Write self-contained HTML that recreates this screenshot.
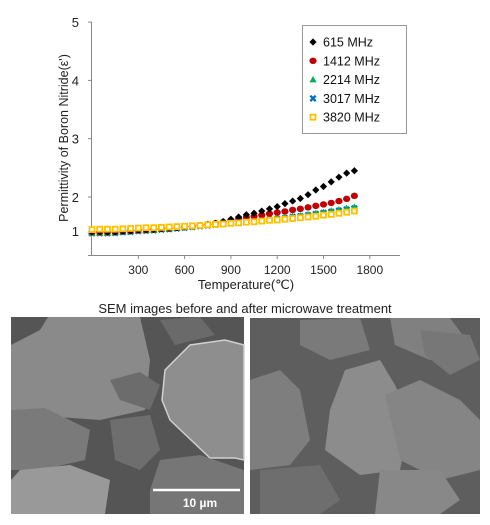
<!DOCTYPE html>
<html><head><meta charset="utf-8"><style>
html,body{margin:0;padding:0;background:#fff;width:490px;height:525px;overflow:hidden;font-family:"Liberation Sans",sans-serif}
svg{position:absolute;left:0;top:0}
</style></head><body>
<svg id="chart" width="490" height="300" viewBox="0 0 490 300"></svg>
<svg width="490" height="525" viewBox="0 0 490 525" style="pointer-events:none">
<text x="245" y="313" text-anchor="middle" font-size="13" fill="#222">SEM images before and after microwave treatment</text>
<g>
<rect x="11" y="317" width="233" height="197" fill="#555"/>
<path d="M11 345 L40 330 L48 317 L140 317 L150 360 L145 410 L100 420 L30 415 L11 410Z" fill="#8a8a8a"/>
<path d="M165 370 L190 345 L225 340 L244 345 L244 460 L235 458 L210 458 L170 420 L162 400Z" fill="#8e8e8e" stroke="#d0d0d0" stroke-width="1.5"/>
<path d="M11 410 L45 408 L90 430 L85 460 L40 470 L11 470Z" fill="#7a7a7a"/>
<path d="M20 470 L70 465 L110 480 L105 514 L11 514 L11 480Z" fill="#999"/>
<path d="M110 420 L150 415 L160 450 L140 470 L115 460Z" fill="#6e6e6e"/>
<path d="M160 460 L200 455 L244 470 L244 514 L150 514 L150 490Z" fill="#767676"/>
<path d="M160 320 L200 317 L215 335 L175 345Z" fill="#6a6a6a"/>
<path d="M110 380 L140 372 L160 385 L150 410 L120 400Z" fill="#6c6c6c"/>
<line x1="153" y1="490" x2="240" y2="490" stroke="#fff" stroke-width="2.5"/>
<text x="200" y="507" text-anchor="middle" font-size="12" font-weight="bold" fill="#fff">10 µm</text>
</g>
<g>
<rect x="250" y="318" width="230" height="196" fill="#5e5e5e"/>
<path d="M250 380 L280 370 L300 390 L310 440 L290 465 L250 470Z" fill="#7e7e7e"/>
<path d="M330 410 L345 370 L380 360 L395 385 L410 420 L400 470 L360 475 L325 450Z" fill="#8c8c8c"/>
<path d="M385 395 L420 380 L460 400 L480 420 L480 470 L440 480 L400 460Z" fill="#858585"/>
<path d="M300 320 L360 318 L370 350 L330 360 L300 345Z" fill="#7a7a7a"/>
<path d="M390 318 L450 318 L470 345 L430 360 L395 345Z" fill="#808080"/>
<path d="M260 470 L320 465 L340 500 L320 514 L260 514Z" fill="#6e6e6e"/>
<path d="M380 470 L440 470 L460 500 L440 514 L375 514Z" fill="#888"/>
<path d="M420 330 L470 335 L480 360 L450 375 L425 355Z" fill="#777"/>
</g>
</svg>
<script>
const temps=[0,50,100,150,200,250,300,350,400,450,500,550,600,650,700,750,800,850,900,950,1000,1050,1100,1150,1200,1250,1300,1350,1400,1450,1500,1550,1600,1650,1700];
const s615=[1.06,1.06,1.05,1.05,1.07,1.08,1.10,1.11,1.12,1.14,1.15,1.17,1.19,1.21,1.23,1.26,1.29,1.34,1.40,1.46,1.52,1.56,1.62,1.68,1.74,1.82,1.89,1.96,2.04,2.12,2.18,2.26,2.34,2.41,2.45];
const s1412=[1.05,1.05,1.05,1.05,1.07,1.08,1.10,1.11,1.12,1.14,1.15,1.17,1.19,1.21,1.23,1.26,1.29,1.32,1.37,1.41,1.45,1.48,1.51,1.55,1.58,1.61,1.65,1.68,1.72,1.76,1.80,1.84,1.89,1.95,2.02];
const s2214=[1.03,1.03,1.03,1.04,1.06,1.07,1.09,1.10,1.11,1.13,1.14,1.16,1.18,1.20,1.22,1.24,1.26,1.28,1.30,1.32,1.35,1.37,1.39,1.41,1.43,1.45,1.48,1.50,1.53,1.56,1.59,1.63,1.66,1.70,1.73];
const s3017=[1.02,1.02,1.02,1.03,1.05,1.06,1.08,1.09,1.10,1.12,1.13,1.15,1.17,1.19,1.21,1.23,1.25,1.27,1.29,1.31,1.33,1.35,1.37,1.39,1.41,1.43,1.46,1.48,1.51,1.54,1.57,1.60,1.63,1.66,1.69];
const s3820=[1.12,1.13,1.13,1.13,1.14,1.15,1.16,1.17,1.17,1.18,1.19,1.20,1.21,1.22,1.23,1.25,1.26,1.27,1.29,1.30,1.32,1.33,1.35,1.37,1.38,1.40,1.42,1.44,1.46,1.48,1.51,1.53,1.56,1.59,1.62];
const xTicks=[300,600,900,1200,1500,1800];
const yTicks=[1,2,3,4,5];
const seriesNames=["615 MHz","1412 MHz","2214 MHz","3017 MHz","3820 MHz"];

const NS="http://www.w3.org/2000/svg";
const svg=document.getElementById('chart');
function X(t){return 92+t*46.3/300;}
function Y(v){ if(v<=2) return 234-(v-1)*37; return 197-(v-2)*58.3;}
function el(tag,attrs,parent){const e=document.createElementNS(NS,tag);for(const k in attrs)e.setAttribute(k,attrs[k]);(parent||svg).appendChild(e);return e;}

const ax=el('g',{});


el('line',{x1:91.5,y1:22,x2:91.5,y2:256,stroke:'#888'},ax);
el('line',{x1:91,y1:255.5,x2:400,y2:255.5,stroke:'#888'},ax);
xTicks.forEach(t=>{
  const x=X(t);
  el('line',{x1:x,y1:255,x2:x,y2:259,stroke:'#888'},ax);
  const tx=el('text',{x:x,y:274,'text-anchor':'middle','font-size':'12',fill:'#222'},ax);
  tx.textContent=t;
  
  
});
el('line',{x1:88,y1:255.5,x2:92,y2:255.5,stroke:'#888'},ax);
yTicks.forEach(v=>{
  const y=v===1?231:Y(v);
  el('line',{x1:88,y1:Y(v),x2:92,y2:Y(v),stroke:'#888'},ax);
  const tx=el('text',{x:79,y:y+5,'text-anchor':'end','font-size':'13',fill:'#222'},ax);
  tx.textContent=v;
  
  
});
const xt=el('text',{x:246,y:289,'text-anchor':'middle','font-size':'13',fill:'#222'});
xt.textContent='Temperature(℃)';


const yt=el('text',{x:0,y:0,'text-anchor':'middle','font-size':'12.5',fill:'#222',transform:'translate(68,138) rotate(-90)'});
yt.textContent="Permittivity of Boron Nitride(ε')";



function marker(type,x,y,g){
  if(type===0) return el('path',{d:`M${x} ${y-3.6}L${x+3.6} ${y}L${x} ${y+3.6}L${x-3.6} ${y}Z`,fill:'#000'},g);
  if(type===1) return el('ellipse',{cx:x,cy:y,rx:3.6,ry:3.2,fill:'#c00000'},g);
  if(type===2) return el('path',{d:`M${x} ${y-3.6}L${x+3.6} ${y+2.8}L${x-3.6} ${y+2.8}Z`,fill:'#00b050'},g);
  if(type===3){const p=el('path',{d:`M${x-2.7} ${y-2.7}L${x+2.7} ${y+2.7}M${x+2.7} ${y-2.7}L${x-2.7} ${y+2.7}`,stroke:'#0070c0','stroke-width':2.4},g);return p;}
  return el('rect',{x:x-2.5,y:y-2.5,width:5,height:5,fill:'#fff',stroke:'#ffc000','stroke-width':1.8},g);
}
const allSeries=[s615,s1412,s2214,s3017,s3820];
const order=[3,2,1,0,4];
order.forEach(si=>{
  const g=el('g',{});
  
  
  allSeries[si].forEach((v,i)=>{
    const m=marker(si,X(temps[i]),Y(v),g);
    
    
  });
});

const lg=el('g',{});


el('rect',{x:302.5,y:25.5,width:104,height:108,fill:'#fff',stroke:'#999'},lg);
seriesNames.forEach((n,i)=>{
  const y=42+i*18.8;
  const e=el('g',{},lg);
  
  
  marker(i,313,y,e);
  const t=el('text',{x:323,y:y+4.5,'font-size':'12.5',fill:'#111'},e);
  t.textContent=n;
});
</script>
</body></html>
